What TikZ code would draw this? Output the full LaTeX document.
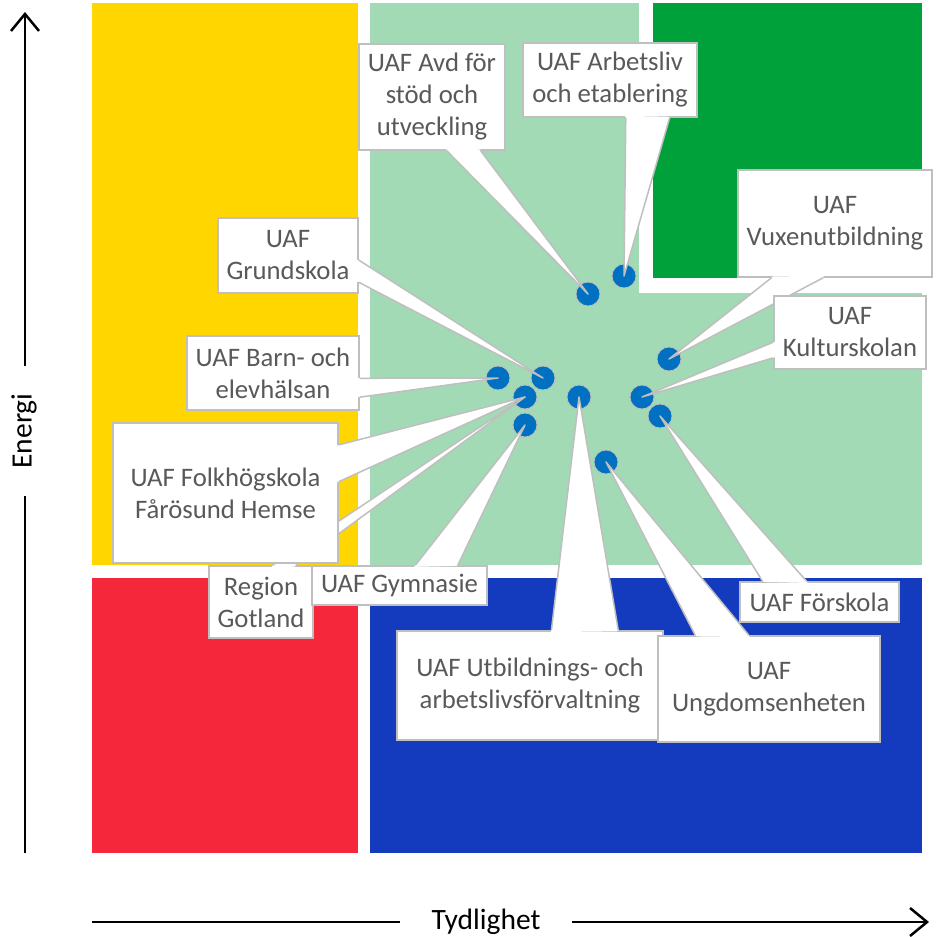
\documentclass[tikz,border=0pt]{standalone}
\usepackage{fontspec}
\setmainfont{Carlito}
\usepackage{tikz}
\usetikzlibrary{calc,arrows.meta}
\definecolor{gul}{RGB}{255,214,0}
\definecolor{ljusgron}{RGB}{161,218,180}
\definecolor{morkgron}{RGB}{0,160,58}
\definecolor{rod}{RGB}{244,40,58}
\definecolor{bla}{RGB}{20,58,190}
\definecolor{punkt}{RGB}{0,112,192}
\definecolor{kantgra}{RGB}{191,191,191}
\definecolor{textgra}{RGB}{89,89,89}

% wedge from a side of box #1 (between #2 and #3, fractions #4..#5) to dot #6
\newcommand{\kil}[6]{%
  \coordinate (ka) at ($(#1.#2)!#4!(#1.#3)$);
  \coordinate (kb) at ($(#1.#2)!#5!(#1.#3)$);
  \fill[white] ($(ka)!2pt!(#1.center)$) -- (ka) -- (#6.center) -- (kb) -- ($(kb)!2pt!(#1.center)$) -- cycle;
  \draw[kant] (ka) -- (#6.center) -- (kb);
}

\begin{document}
\begin{tikzpicture}[x=1pt,y=-1pt,
    kant/.style={draw=kantgra, line width=1.5pt, line join=round},
    ruta/.style={rectangle, draw=kantgra, line width=1.5pt, fill=white, text=textgra,
      align=center, inner sep=0pt, font=\fontsize{26.7}{32}\selectfont},
    prick/.style={circle, fill=punkt, draw=kantgra, line width=0.8pt, minimum size=24pt, inner sep=0pt},
    axel/.style={line width=2.5pt},
    axeltext/.style={font=\fontsize{29.5}{32}\selectfont, inner ysep=0pt}]
        \useasboundingbox (0,0) rectangle (935,937);
        % Quadrants
        \fill[gul] (92,3) rectangle (358,565);
        \fill[ljusgron] (370,3) rectangle (922,565);
        \fill[white] (639,3) rectangle (922,293);
        \fill[morkgron] (653,3) rectangle (922,278);
        \fill[rod] (92,578) rectangle (358,853);
        \fill[bla] (370,578) rectangle (922,853);
        % Axes
        \node[axeltext, rotate=90, inner xsep=27pt] (energi) at (24,431) {Energi};
        \coordinate (ytopp) at (25,12);
        \coordinate (ybotten) at (25,853);
        \draw[axel] (ybotten) -- (ybotten |- energi.west);
        \draw[axel, -{Straight Barb[length=17pt,width=28pt]}] (ytopp |- energi.east) -- (ytopp);
        \node[axeltext, inner xsep=31pt] (tydlighet) at (486,922) {Tydlighet};
        \coordinate (xstart) at (92,922);
        \coordinate (xslut) at (929,922);
        \draw[axel] (xstart) -- (tydlighet.west);
        \draw[axel, -{Straight Barb[length=17pt,width=28pt]}] (tydlighet.east) -- (xslut);
        % Dots
        \node[prick] (dAvd) at (588,294) {};
        \node[prick] (dArbetsliv) at (624,276) {};
        \node[prick] (dVuxen) at (669,359) {};
        \node[prick] (dKultur) at (642,397) {};
        \node[prick] (dForskola) at (660,416) {};
        \node[prick] (dUngdom) at (606,462) {};
        \node[prick] (dUtbild) at (579,397) {};
        \node[prick] (dGrund) at (543,378) {};
        \node[prick] (dBarn) at (498,378) {};
        \node[prick] (dFolk) at (525,397) {};
        \node[prick] (dGymn) at (525,425) {};
        % Callouts
        \node[ruta, minimum width=146pt, minimum height=106pt] (avd) at (432,97) {UAF Avd för\\stöd och\\utveckling};
        \kil{avd}{south west}{south east}{0.60}{0.83}{dAvd}
        \node[ruta, minimum width=174pt, minimum height=74pt] (arbetsliv) at (610,80) {UAF Arbetsliv\\och etablering};
        \kil{arbetsliv}{south west}{south east}{0.59}{0.84}{dArbetsliv}
        \node[ruta, minimum width=194pt, minimum height=107pt] (vuxen) at (835,223.5) {UAF\\Vuxenutbildning};
        \kil{vuxen}{south west}{south east}{0.175}{0.44}{dVuxen}
        \node[ruta, minimum width=152pt, minimum height=73pt] (kultur) at (850,332.5) {UAF\\Kulturskolan};
        \kil{kultur}{north west}{south west}{0.63}{0.84}{dKultur}
        \node[ruta, minimum width=140pt, minimum height=75pt] (grund) at (288,255.5) {UAF\\Grundskola};
        \kil{grund}{north east}{south east}{0.56}{0.85}{dGrund}
        \node[ruta, minimum width=172pt, minimum height=74pt] (barn) at (273,373) {UAF Barn- och\\elevhälsan};
        \kil{barn}{north east}{south east}{0.57}{0.82}{dBarn}
        \node[ruta, minimum width=104pt, minimum height=72pt] (region) at (261,602) {Region\\Gotland};
        \kil{region}{north west}{north east}{0.61}{0.83}{dFolk}
        \node[ruta, minimum width=225pt, minimum height=140pt] (folk) at (225.5,493) {UAF Folkhögskola\\Fårösund Hemse};
        \kil{folk}{north east}{south east}{0.16}{0.42}{dFolk}
        \node[ruta, minimum width=175pt, minimum height=39pt] (gymn) at (399.5,585.5) {UAF Gymnasie};
        \kil{gymn}{north west}{north east}{0.59}{0.83}{dGymn}
        \node[ruta, minimum width=266pt, minimum height=109pt] (utbild) at (530,685.5) {UAF Utbildnings- och\\arbetslivsförvaltning};
        \kil{utbild}{north west}{north east}{0.58}{0.83}{dUtbild}
        \node[ruta, minimum width=222pt, minimum height=106pt] (ungdom) at (769,689) {UAF\\Ungdomsenheten};
        \kil{ungdom}{north west}{north east}{0.17}{0.41}{dUngdom}
        \node[ruta, minimum width=159pt, minimum height=40pt] (forskola) at (819.5,602) {UAF Förskola};
        \kil{forskola}{north west}{north east}{0.145}{0.42}{dForskola}
\end{tikzpicture}
\end{document}
